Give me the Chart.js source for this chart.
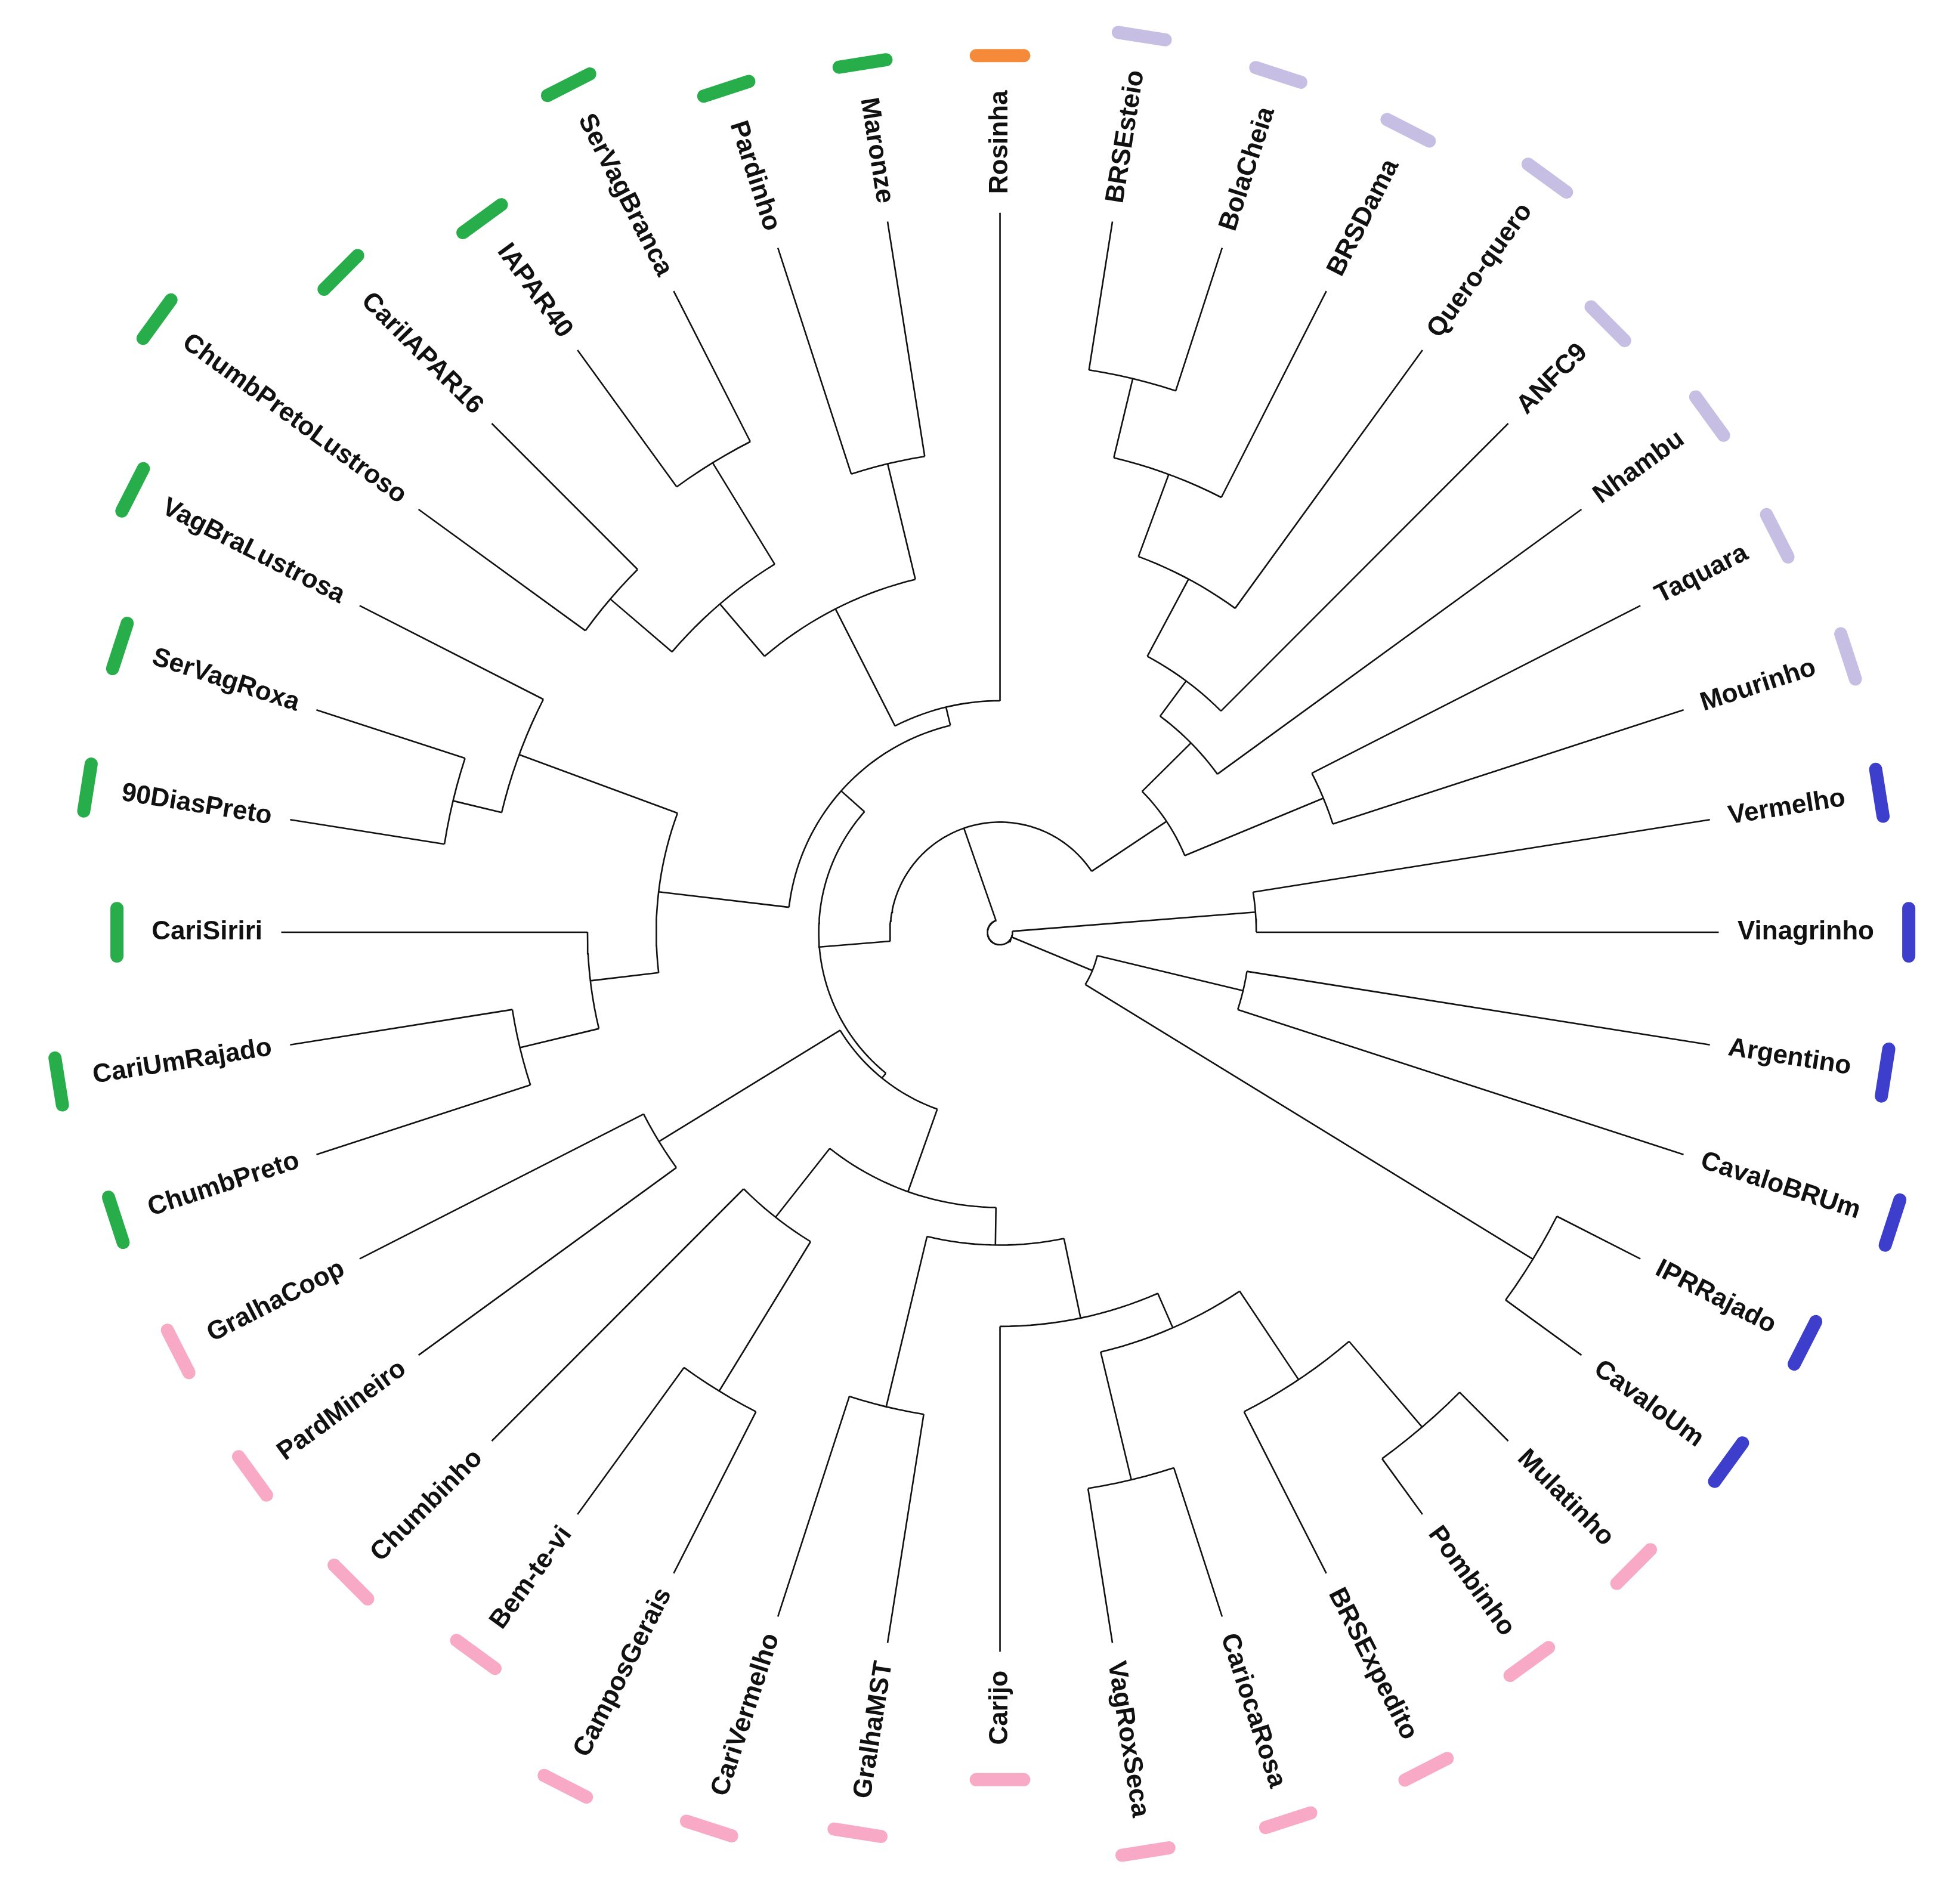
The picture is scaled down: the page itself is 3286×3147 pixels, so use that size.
<!DOCTYPE html>
<html>
<head>
<meta charset="utf-8">
<script src="https://cdn.jsdelivr.net/npm/chart.js@4/dist/chart.umd.min.js"></script>
<style>
  html, body { margin: 0; padding: 0; background: #fff; }
  #wrap { width: 3286px; height: 3147px; }
</style>
</head>
<body>
<div id="wrap"><canvas id="tree"></canvas></div>
<script>
"use strict";

// leaves, clockwise from the top
const LEAVES = ["Rosinha", "BRSEsteio", "BolaCheia", "BRSDama", "Quero-quero", "ANFC9",
  "Nhambu", "Taquara", "Mourinho", "Vermelho", "Vinagrinho", "Argentino", "CavaloBRUm",
  "IPRRajado", "CavaloUm", "Mulatinho", "Pombinho", "BRSExpedito", "CariocaRosa",
  "VagRoxSeca", "Carijo", "GralhaMST", "CariVermelho", "CamposGerais", "Bem-te-vi",
  "Chumbinho", "PardMineiro", "GralhaCoop", "ChumbPreto", "CariUmRajado", "CariSiriri",
  "90DiasPreto", "SerVagRoxa", "VagBraLustrosa", "ChumbPretoLustroso", "CariIAPAR16",
  "IAPAR40", "SerVagBranca", "Pardinho", "Maronze"];
const LEAF_GROUP = [0, 1, 1, 1, 1, 1, 1, 1, 1, 2, 2, 2, 2, 2, 2, 3, 3, 3, 3, 3, 3, 3, 3, 3, 3,
  3, 3, 3, 4, 4, 4, 4, 4, 4, 4, 4, 4, 4, 4, 4];
const GROUP_COLORS = ["#f58a3a", "#c7bfe3", "#3d3fcc", "#f8a9c5", "#27ad4a"];

// merges: name, children, radius
const MERGE_NAMES = ["E1", "E2", "E3", "E4", "E5", "E6", "E7", "B1", "B2", "B3", "B4",
  "P1", "P2", "P3", "P4", "P5", "G1", "P6", "C1", "C2", "P7", "GP", "K",
  "GA", "GB", "GC", "GD", "GE", "GF", "GL1", "GL2", "GL3", "GL4", "GL5", "G", "L", "A", "ROOT"];
const MERGE_CHILDREN = [
  ["BRSEsteio", "BolaCheia"], ["E1", "BRSDama"], ["E2", "Quero-quero"], ["E3", "ANFC9"],
  ["E4", "Nhambu"], ["Taquara", "Mourinho"], ["E5", "E6"],
  ["Vermelho", "Vinagrinho"], ["Argentino", "CavaloBRUm"], ["IPRRajado", "CavaloUm"], ["B2", "B3"],
  ["Mulatinho", "Pombinho"], ["BRSExpedito", "P1"], ["CariocaRosa", "VagRoxSeca"], ["P2", "P3"],
  ["P4", "Carijo"], ["GralhaMST", "CariVermelho"], ["P5", "G1"], ["CamposGerais", "Bem-te-vi"],
  ["C1", "Chumbinho"], ["P6", "C2"], ["PardMineiro", "GralhaCoop"], ["P7", "GP"],
  ["ChumbPretoLustroso", "CariIAPAR16"], ["IAPAR40", "SerVagBranca"], ["GA", "GB"],
  ["Pardinho", "Maronze"], ["GC", "GD"], ["GE", "Rosinha"],
  ["90DiasPreto", "SerVagRoxa"], ["GL1", "VagBraLustrosa"], ["ChumbPreto", "CariUmRajado"],
  ["GL3", "CariSiriri"], ["GL4", "GL2"], ["GL5", "GF"], ["K", "G"], ["L", "E7"],
  ["B1", "B4", "A"]];
const MERGE_RADII = [455, 390, 320, 250, 215, 280, 160, 205, 200, 500, 80,
  520, 430, 450, 345, 315, 390, 250, 430, 290, 220, 320, 150,
  410, 440, 345, 385, 290, 185, 450, 410, 395, 330, 275, 170, 145, 88, 10];

const LEAF_R = 575;
const LABEL_R = 590;
const STEP = 360 / LEAVES.length;
const PX_PER_UNIT = 3286 / 1568;
const FONT = "bold 44px 'Liberation Sans', Arial, sans-serif";

function toXY(r, deg) {
  const a = deg * Math.PI / 180;
  return {x: r * Math.sin(a), y: r * Math.cos(a)};
}

// leaf angle; the tree is cut in the blue clade, so the top leaves wrap past 360
function leafAngle(i) {
  return i * STEP + (i < 9 ? 360 : 0);
}

const nodes = {};
LEAVES.forEach((name, i) => { nodes[name] = {angle: leafAngle(i), r: LEAF_R}; });
MERGE_NAMES.forEach((name, i) => {
  const kids = MERGE_CHILDREN[i].map(k => nodes[k].angle);
  const lo = Math.min(...kids), hi = Math.max(...kids);
  nodes[name] = {angle: (lo + hi) / 2, r: MERGE_RADII[i], lo: lo, hi: hi};
});

const branchPts = [];
MERGE_NAMES.forEach((name, i) => {
  const n = nodes[name];
  const steps = Math.max(2, Math.ceil((n.hi - n.lo) / 1.5));
  for (let s = 0; s <= steps; s++) {
    branchPts.push(toXY(n.r, n.lo + (n.hi - n.lo) * s / steps));
  }
  branchPts.push({x: null, y: null});
  for (const k of MERGE_CHILDREN[i]) {
    branchPts.push(toXY(n.r, nodes[k].angle), toXY(nodes[k].r, nodes[k].angle));
    branchPts.push({x: null, y: null});
  }
});

// colour bars sit just past the end of each label
const measure = document.createElement("canvas").getContext("2d");
measure.font = FONT;

const datasets = [{
  data: branchPts, showLine: true, spanGaps: false, borderColor: "#111",
  borderWidth: 2.6, pointRadius: 0, tension: 0
}];
GROUP_COLORS.forEach((c, g) => {
  const pts = [];
  LEAVES.forEach((name, i) => {
    if (LEAF_GROUP[i] !== g) return;
    const a = leafAngle(i);
    const r = LABEL_R + measure.measureText(name).width / PX_PER_UNIT + 28;
    const half = 19 / r * 180 / Math.PI;
    pts.push(toXY(r, a - half), toXY(r, a + half), {x: null, y: null});
  });
  datasets.push({
    data: pts, showLine: true, spanGaps: false, borderColor: c, borderWidth: 22,
    borderCapStyle: "round", pointRadius: 0
  });
});

const leafLabels = {
  id: "leafLabels",
  afterDatasetsDraw(chart) {
    const ctx = chart.ctx;
    const xs = chart.scales.x, ys = chart.scales.y;
    ctx.save();
    ctx.fillStyle = "#111";
    ctx.font = FONT;
    ctx.textBaseline = "middle";
    LEAVES.forEach((name, i) => {
      const a = leafAngle(i) % 360;
      const p = toXY(LABEL_R, a);
      ctx.save();
      ctx.translate(xs.getPixelForValue(p.x), ys.getPixelForValue(p.y));
      if (a >= 180) {
        ctx.rotate((a + 90) * Math.PI / 180);
        ctx.textAlign = "right";
      } else {
        ctx.rotate((a - 90) * Math.PI / 180);
        ctx.textAlign = "left";
      }
      ctx.fillText(name, 0, 0);
      ctx.restore();
    });
    ctx.restore();
  }
};

new Chart(document.getElementById("tree").getContext("2d"), {
  type: "scatter",
  data: {datasets: datasets},
  options: {
    responsive: true, maintainAspectRatio: false, animation: false,
    layout: {padding: 0},
    plugins: {legend: {display: false}, tooltip: {enabled: false}},
    scales: {
      x: {type: "linear", min: -800, max: 768, display: false},
      y: {type: "linear", min: -755, max: 745, display: false}
    }
  },
  plugins: [leafLabels]
});
</script>
</body>
</html>
